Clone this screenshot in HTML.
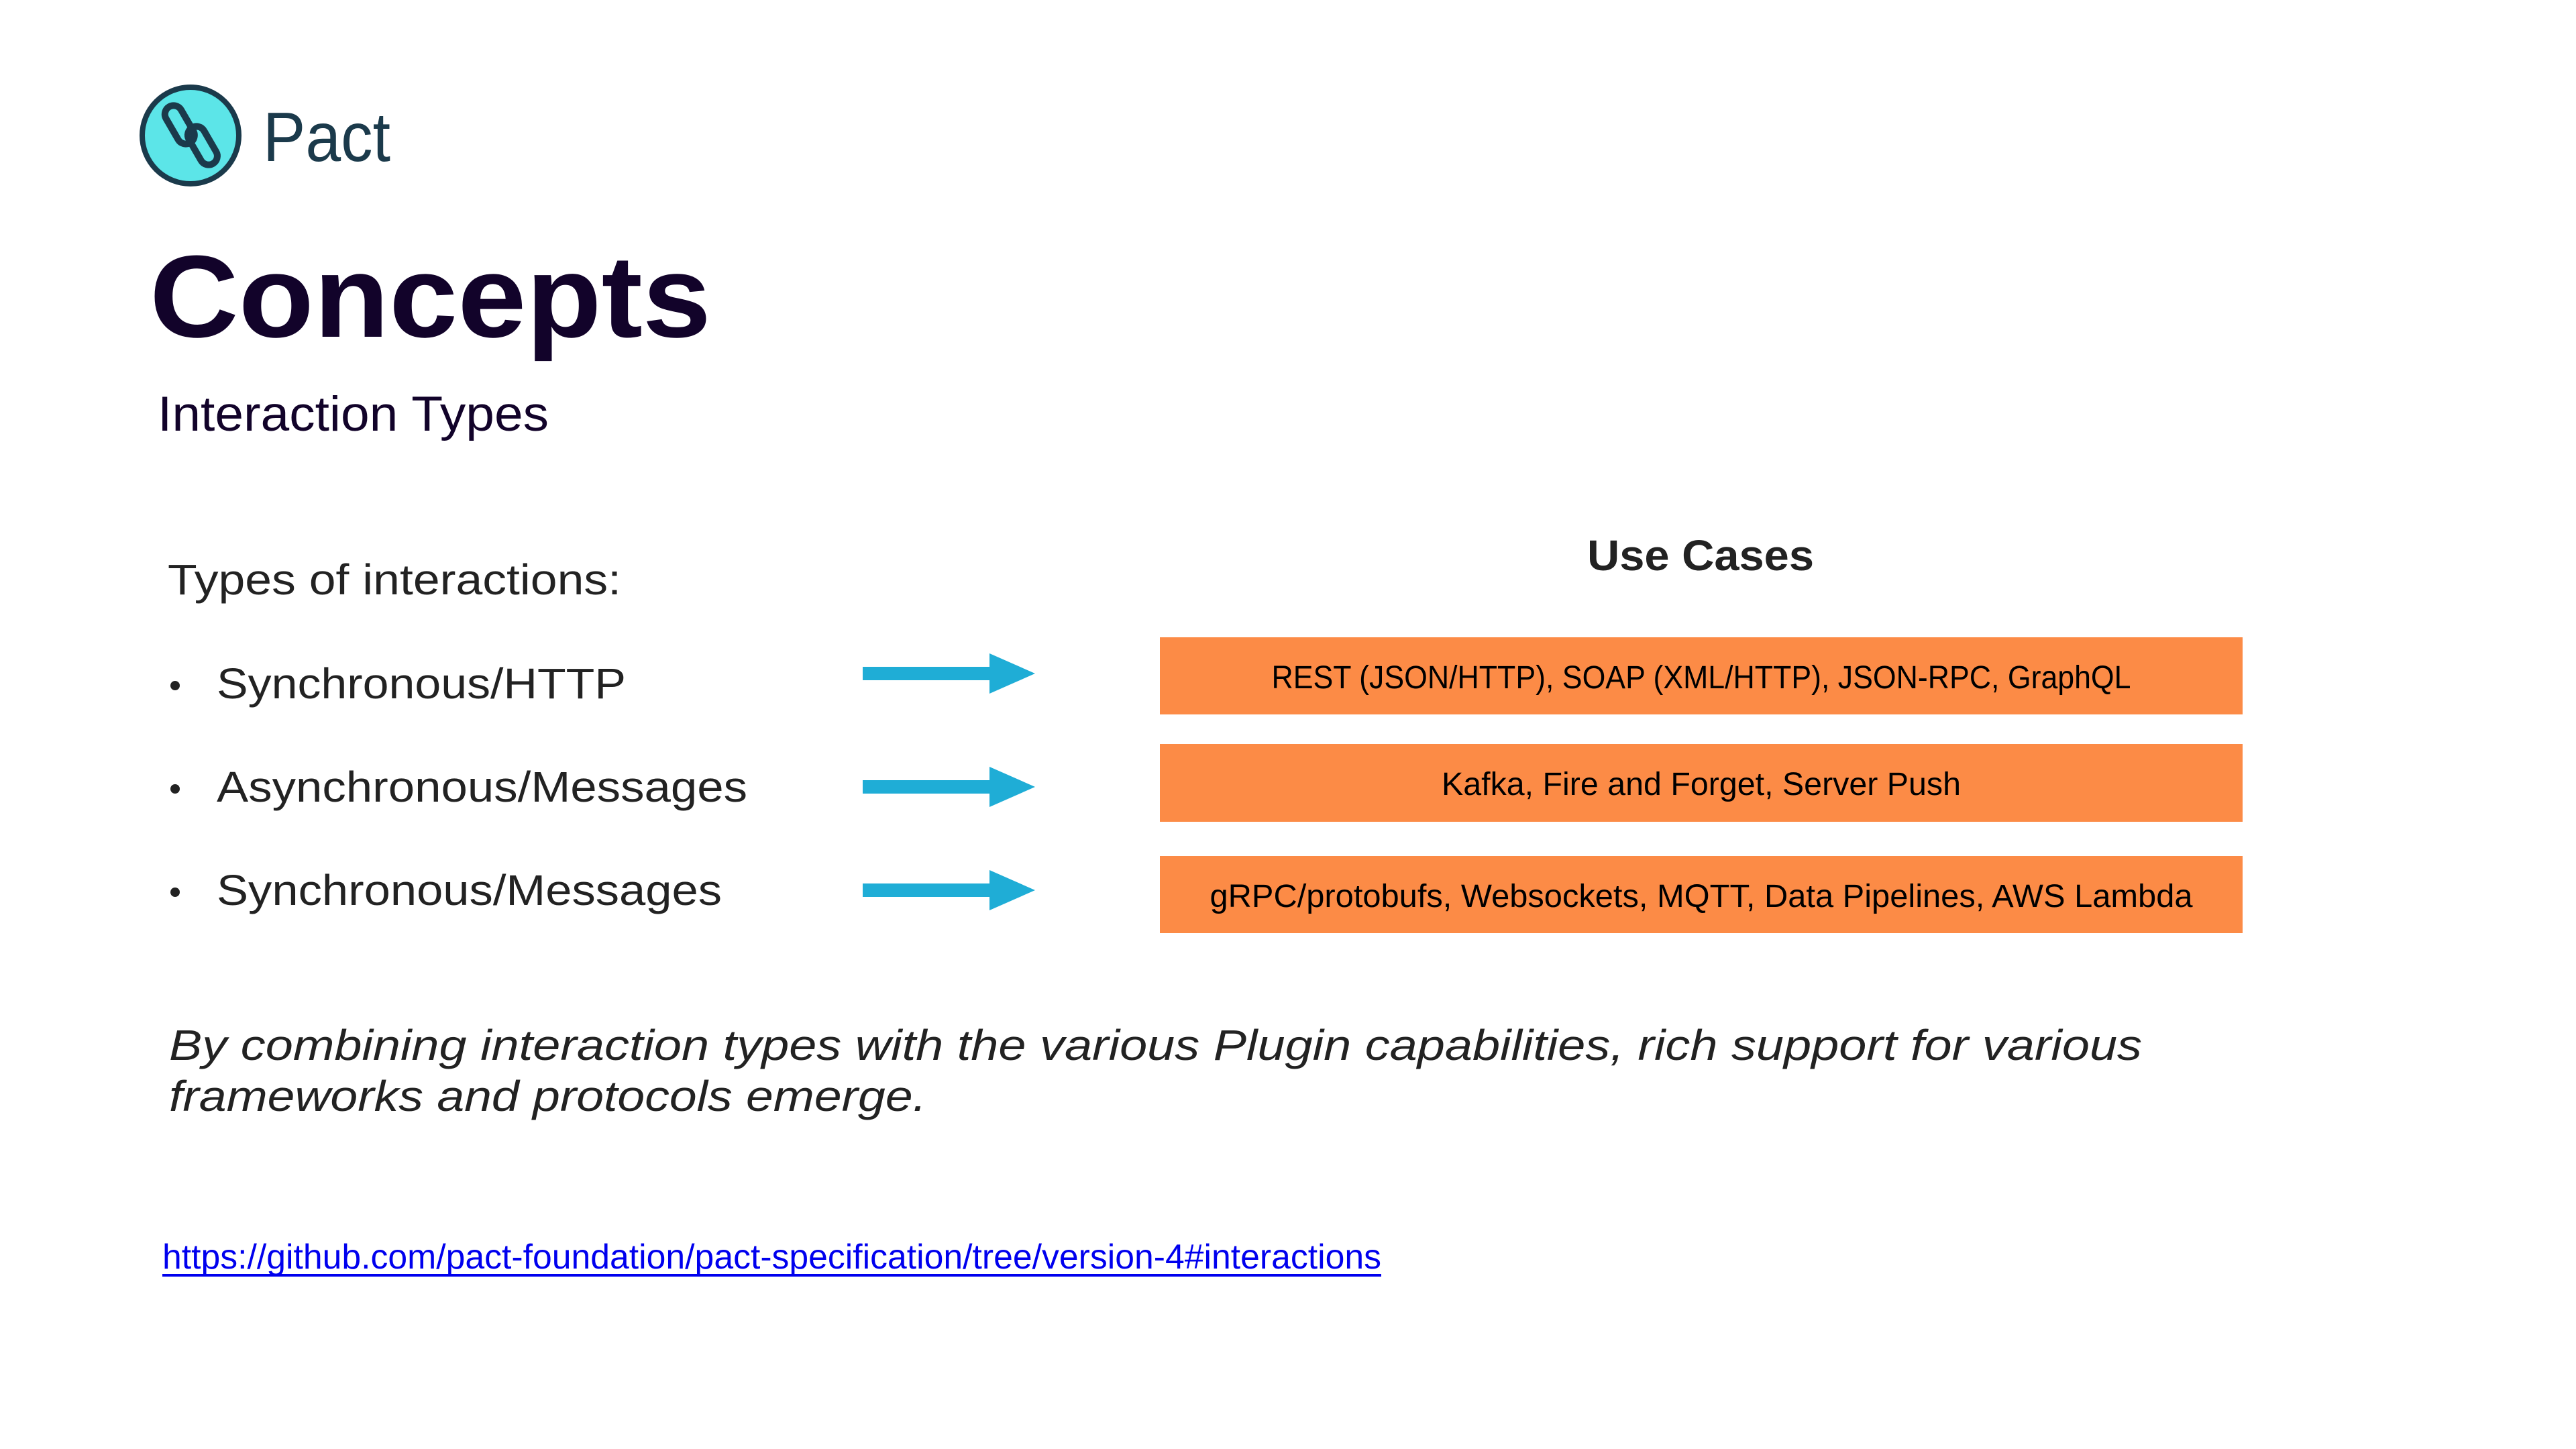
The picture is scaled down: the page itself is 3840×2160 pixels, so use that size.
<!DOCTYPE html>
<html><head><meta charset="utf-8"><style>
html,body{margin:0;padding:0;background:#fff;}
svg{display:block}
</style></head><body>
<svg width="3840" height="2160" viewBox="0 0 3840 2160" xmlns="http://www.w3.org/2000/svg">
<rect width="3840" height="2160" fill="#fff"/>
<!-- logo -->
<circle cx="284" cy="202" r="72" fill="#5ce5e8" stroke="#1b3a4b" stroke-width="8"/>
<g transform="rotate(-30 284 202)" fill="none" stroke="#1b3a4b" stroke-width="10">
<rect x="265" y="149" width="26" height="62" rx="13"/>
<rect x="279" y="193" width="26" height="62" rx="13"/>
</g>
<text x="392" y="240" font-family="Liberation Sans, sans-serif" font-size="104" fill="#1b3a4b" textLength="190" lengthAdjust="spacingAndGlyphs">Pact</text>
<!-- title -->
<text x="223" y="502" font-family="Liberation Sans, sans-serif" font-weight="bold" font-size="174" fill="#12032a" textLength="837" lengthAdjust="spacingAndGlyphs">Concepts</text>
<text x="235" y="642" font-family="Liberation Sans, sans-serif" font-size="73" fill="#12032a" textLength="583" lengthAdjust="spacingAndGlyphs">Interaction Types</text>
<!-- left list -->
<g font-family="Liberation Sans, sans-serif" fill="#222" font-size="64">
<text x="250" y="886" textLength="676" lengthAdjust="spacingAndGlyphs">Types of interactions:</text>
<circle cx="261" cy="1022" r="7" fill="#222"/>
<text x="323" y="1041" textLength="610" lengthAdjust="spacingAndGlyphs">Synchronous/HTTP</text>
<circle cx="261" cy="1176" r="7" fill="#222"/>
<text x="323" y="1195" textLength="791" lengthAdjust="spacingAndGlyphs">Asynchronous/Messages</text>
<circle cx="261" cy="1330" r="7" fill="#222"/>
<text x="323" y="1349" textLength="753" lengthAdjust="spacingAndGlyphs">Synchronous/Messages</text>
</g>
<!-- Use cases -->
<text x="2535" y="850" text-anchor="middle" font-family="Liberation Sans, sans-serif" font-weight="bold" font-size="64" fill="#222" textLength="338" lengthAdjust="spacingAndGlyphs">Use Cases</text>
<!-- arrows -->
<g fill="#1fadd6">
<polygon points="1286,994 1475,994 1475,974 1543,1004 1475,1034 1475,1014 1286,1014"/>
<polygon points="1286,1163 1475,1163 1475,1143 1543,1173 1475,1203 1475,1183 1286,1183"/>
<polygon points="1286,1317 1475,1317 1475,1297 1543,1327 1475,1357 1475,1337 1286,1337"/>
</g>
<!-- boxes -->
<g fill="#fc8b46">
<rect x="1729" y="950" width="1614" height="115"/>
<rect x="1729" y="1109" width="1614" height="116"/>
<rect x="1729" y="1276" width="1614" height="115"/>
</g>
<g font-family="Liberation Sans, sans-serif" font-size="48" fill="#000" text-anchor="middle">
<text x="2536" y="1026" textLength="1281" lengthAdjust="spacingAndGlyphs">REST (JSON/HTTP), SOAP (XML/HTTP), JSON-RPC, GraphQL</text>
<text x="2536" y="1185" textLength="774" lengthAdjust="spacingAndGlyphs">Kafka, Fire and Forget, Server Push</text>
<text x="2536" y="1352" textLength="1465" lengthAdjust="spacingAndGlyphs">gRPC/protobufs, Websockets, MQTT, Data Pipelines, AWS Lambda</text>
</g>
<!-- italic -->
<g font-family="Liberation Sans, sans-serif" font-style="italic" font-size="64" fill="#222">
<text x="252" y="1580" textLength="2941" lengthAdjust="spacingAndGlyphs">By combining interaction types with the various Plugin capabilities, rich support for various</text>
<text x="252" y="1656" textLength="1129" lengthAdjust="spacingAndGlyphs">frameworks and protocols emerge.</text>
</g>
<!-- link -->
<text x="242" y="1891" font-family="Liberation Sans, sans-serif" font-size="52" fill="#0000ee" textLength="1817" lengthAdjust="spacingAndGlyphs">https://github.com/pact-foundation/pact-specification/tree/version-4#interactions</text>
<rect x="242" y="1899" width="1817" height="4" fill="#0000ee"/>
</svg>
</body></html>
